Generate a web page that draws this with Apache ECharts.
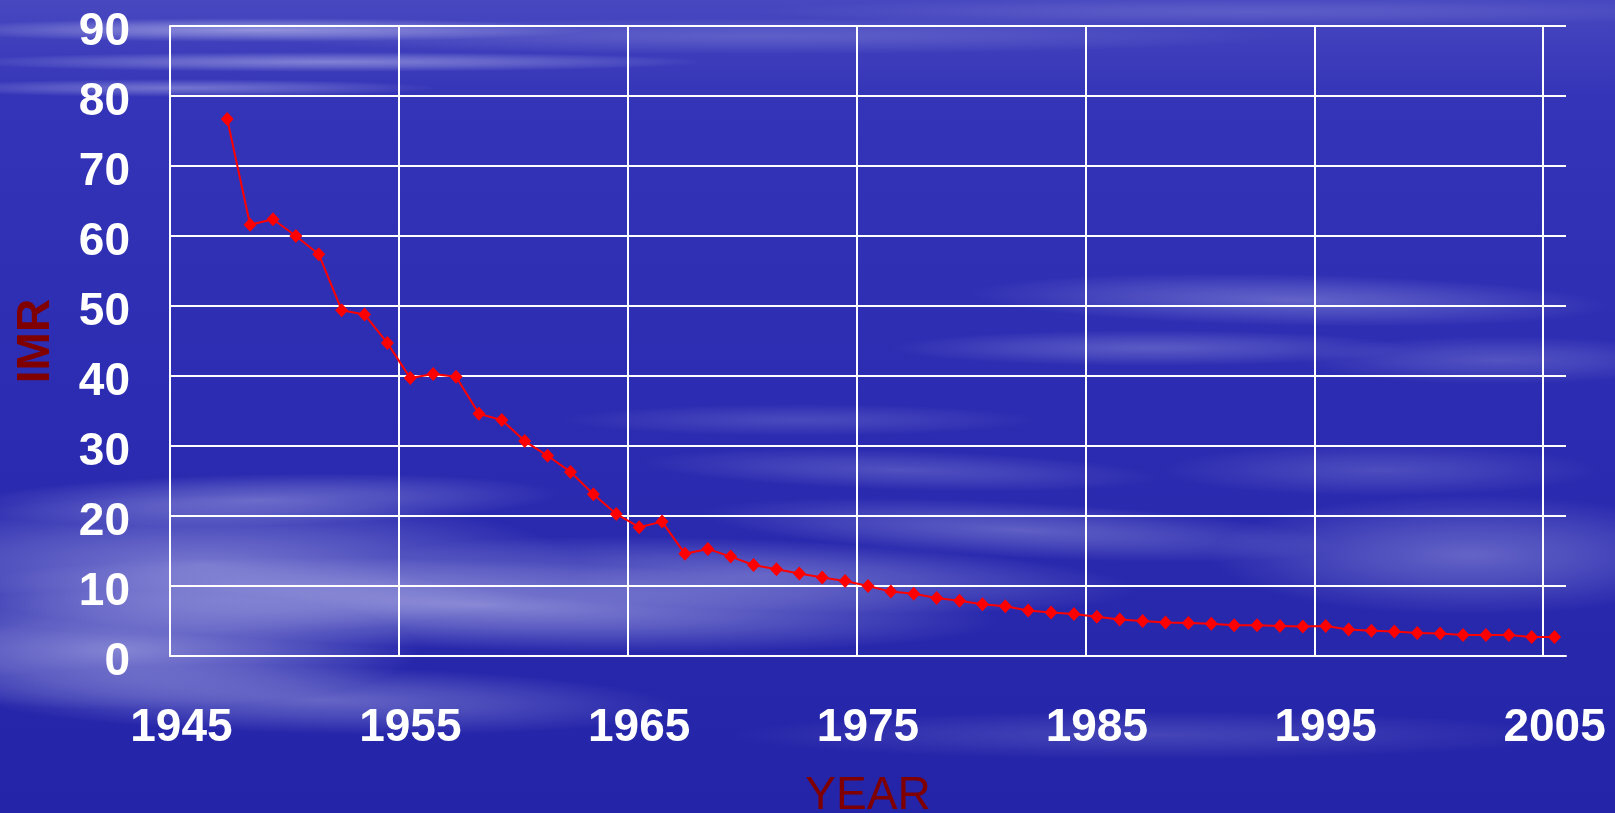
<!DOCTYPE html>
<html>
<head>
<meta charset="utf-8">
<style>
  html, body { margin: 0; padding: 0; background: #2c2cb2; }
  #chart { width: 1615px; height: 813px; }
</style>
<script src="https://cdn.jsdelivr.net/npm/echarts@6/dist/echarts.min.js"></script>
</head>
<body>
<div id="chart"></div>
<script>
// categories: one per year, 1945 - 2005
const years = [
  '1945', '1946', '1947', '1948', '1949', '1950', '1951', '1952', '1953', '1954',
  '1955', '1956', '1957', '1958', '1959', '1960', '1961', '1962', '1963', '1964',
  '1965', '1966', '1967', '1968', '1969', '1970', '1971', '1972', '1973', '1974',
  '1975', '1976', '1977', '1978', '1979', '1980', '1981', '1982', '1983', '1984',
  '1985', '1986', '1987', '1988', '1989', '1990', '1991', '1992', '1993', '1994',
  '1995', '1996', '1997', '1998', '1999', '2000', '2001', '2002', '2003', '2004',
  '2005'
]

// infant mortality rate per year (no value for 1945, 1946)
const imr = [
  null, null, 76.7, 61.6, 62.4, 60.0, 57.4, 49.4, 48.8, 44.7,
  39.7, 40.3, 39.9, 34.6, 33.7, 30.7, 28.6, 26.3, 23.1, 20.3,
  18.4, 19.2, 14.6, 15.3, 14.2, 13.0, 12.4, 11.8, 11.2, 10.7,
  10.0, 9.2, 8.9, 8.3, 7.9, 7.4, 7.1, 6.5, 6.2, 6.0,
  5.6, 5.2, 5.0, 4.8, 4.7, 4.6, 4.4, 4.4, 4.3, 4.2,
  4.3, 3.8, 3.6, 3.5, 3.3, 3.2, 3.0, 3.0, 3.0, 2.7,
  2.7
]

const yTicks = { min: 0, max: 90, step: 10 }

// soft white streaks of the sky background: cx, cy, rx, ry, alpha, rotation
const clouds = [
  [260, 30, 330, 12, 0.48, 0],
  [330, 62, 380, 10, 0.40, 0],
  [180, 88, 260, 9, 0.34, 0],
  [760, 36, 520, 18, 0.18, 0],
  [1250, 12, 500, 14, 0.14, 0],
  [260, 500, 300, 26, 0.32, 0.02],
  [200, 565, 380, 70, 0.40, 0],
  [480, 605, 520, 45, 0.48, -0.03],
  [120, 650, 300, 60, 0.48, 0],
  [760, 575, 380, 36, 0.32, -0.04],
  [1020, 530, 320, 28, 0.28, -0.05],
  [900, 470, 260, 20, 0.20, -0.03],
  [1290, 300, 320, 26, 0.28, -0.02],
  [1150, 348, 260, 18, 0.24, 0],
  [1500, 360, 200, 24, 0.20, 0],
  [1470, 555, 260, 60, 0.30, 0],
  [1380, 470, 220, 26, 0.18, 0],
  [1150, 735, 420, 24, 0.16, 0],
  [320, 700, 360, 34, 0.32, -0.02],
  [800, 420, 240, 16, 0.16, 0]
]

const chart = echarts.init(document.getElementById('chart'))

const cloudShapes = clouds.map(([cx, cy, rx, ry, a, rot]) => ({
  type: 'circle',
  x: cx,
  y: cy,
  scaleX: rx / ry,
  scaleY: 1,
  rotation: rot,
  z: -10,
  silent: true,
  shape: { cx: 0, cy: 0, r: ry },
  style: {
    fill: new echarts.graphic.RadialGradient(0.5, 0.5, 0.5, [
      { offset: 0, color: 'rgba(235,235,255,' + a + ')' },
      { offset: 0.5, color: 'rgba(235,235,255,' + (a * 0.55) + ')' },
      { offset: 1, color: 'rgba(235,235,255,0)' }
    ])
  }
}))

const labelFont = { fontFamily: 'Liberation Sans', fontSize: 46, fontWeight: 'bold', color: '#ffffff' }

chart.setOption({
  animation: false,
  backgroundColor: new echarts.graphic.LinearGradient(0, 0, 0, 1, [
    { offset: 0, color: '#4848c0' },
    { offset: 0.12, color: '#3434b8' },
    { offset: 0.5, color: '#2c2cb2' },
    { offset: 1, color: '#2424a8' }
  ]),
  graphic: cloudShapes,
  grid: { left: 170, right: 49, top: 26, bottom: 157, outerBoundsMode: 'none' },
  xAxis: {
    type: 'category',
    data: years,
    boundaryGap: true,
    name: 'YEAR',
    nameLocation: 'middle',
    nameGap: 117,
    nameTextStyle: { fontFamily: 'Liberation Sans', fontSize: 46, color: '#800000' },
    axisLine: { lineStyle: { color: '#ffffff', width: 2 } },
    axisTick: { show: false, interval: 9 },
    axisLabel: Object.assign({ interval: 9, margin: 49 }, labelFont),
    splitLine: { show: true, interval: 9, showMaxLine: false, lineStyle: { color: '#ffffff', width: 2 } }
  },
  yAxis: {
    type: 'value',
    min: yTicks.min,
    max: yTicks.max,
    interval: yTicks.step,
    name: 'IMR',
    nameLocation: 'middle',
    nameGap: 111,
    nameRotate: 90,
    nameTextStyle: { fontFamily: 'Liberation Sans', fontSize: 46, fontWeight: 'bold', color: '#800000' },
    axisLine: { show: true, lineStyle: { color: '#ffffff', width: 2 } },
    axisTick: { show: false },
    axisLabel: {
      margin: 40,
      formatter: '{v|{value}}',
      rich: { v: Object.assign({ padding: [13, 0, 0, 0] }, labelFont) }
    },
    splitLine: { lineStyle: { color: '#ffffff', width: 2 } }
  },
  series: [
    {
      type: 'line',
      data: imr,
      symbol: 'diamond',
      symbolSize: [13, 14],
      lineStyle: { color: '#ff0000', width: 2 },
      itemStyle: { color: '#ff0000' }
    }
  ]
})
</script>
</body>
</html>
